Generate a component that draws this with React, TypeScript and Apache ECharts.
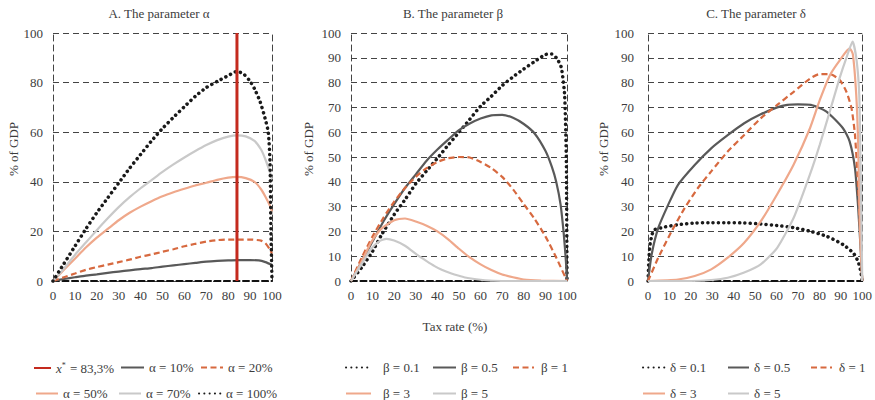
import React, { useEffect, useRef } from "react";
import * as echarts from "echarts";

// ---------- Data ----------
const xTickStep = 10;

// Panel A: the parameter alpha
const xStar = [[84, 0], [84, 100]];
const alpha10 = [[0,0],[5,0.8],[10,1.5],[15,2.2],[20,2.7],[25,3.3],[30,3.8],[35,4.3],[40,4.8],[45,5.2],[50,5.8],[55,6.3],[60,6.8],[65,7.3],[70,7.8],[75,8.1],[80,8.3],[85,8.4],[90,8.4],[94,8.3],[97,7.6],[100,6.5]];
const alpha20 = [[0,0],[5,1.5],[10,3],[15,4.5],[20,5.6],[25,6.6],[30,7.6],[35,8.6],[40,9.8],[45,10.7],[50,11.8],[55,12.8],[60,14],[65,15],[70,15.9],[75,16.5],[80,16.7],[85,16.7],[90,16.7],[95,16.3],[97,15.2],[99,12.8],[100,11]];
const alpha50 = [[0,0],[5,4.5],[10,9],[15,13.5],[20,17.5],[25,21],[30,24.5],[35,27.5],[40,30],[45,32.2],[50,34.2],[55,35.8],[60,37.2],[65,38.5],[70,39.6],[75,40.8],[80,41.7],[84,42],[88,41.5],[92,40],[95,37],[97,34],[99,30.5],[100,28]];
const alpha70 = [[0,0],[5,5],[10,10.5],[15,15.5],[20,20.5],[25,25.3],[30,29.8],[35,33.8],[40,37.4],[45,40.7],[50,44],[55,47],[60,49.8],[65,52.4],[70,54.8],[75,56.8],[80,58.2],[84,58.7],[88,58.3],[92,56.5],[95,53],[97,49],[99,44],[100,41]];
const alpha100 = [[0,0],[5,7],[10,14],[15,21],[20,27.5],[25,33.5],[30,39.5],[35,45.5],[40,51],[45,56.5],[50,61.5],[55,66],[60,70.3],[65,74.5],[70,78],[75,80.5],[80,82.8],[84,84.5],[87,83.5],[90,80.5],[92,77.5],[94.5,72.5],[96.8,65.7],[98.3,60],[99.1,48],[99.5,21],[100,0]];

// Panel B: the parameter beta
const beta01 = [[0,0],[5,5.5],[10,12],[14,18.4],[20,26.8],[25,32.8],[30,39.2],[35,44.4],[40,49.5],[45,54.8],[50,60],[55,65.2],[60,70.5],[65,74.5],[70,78.8],[75,82.3],[80,85.5],[85,88.5],[90,91.3],[93,91.5],[95.5,89.5],[97.4,86],[98.9,75],[99.7,48],[100,0]];
const beta05 = [[0,0],[5,8],[10,16],[15,24],[20,31],[25,37.5],[30,43],[35,48.5],[40,53],[45,57],[50,60.8],[55,63.5],[60,65.5],[65,66.8],[70,67],[75,65.8],[80,63.3],[85,59.5],[90,52.5],[93,46],[95,40],[97,31],[98.5,19],[99.5,8],[100,0]];
const beta1 = [[0,0],[5,9.5],[10,18],[15,25.5],[20,32],[25,37.5],[30,42],[35,45.5],[40,48],[45,49.5],[50,50],[55,49.8],[60,48],[65,45.5],[70,42],[75,37],[80,31],[85,25],[90,18],[95,9.5],[100,0]];
const beta3 = [[0,0],[5,8],[9.4,15.7],[14,21],[20,24.5],[25,25.2],[30,24],[35,22.3],[40,20],[45,16.8],[50,13],[55,9.5],[60,6.7],[65,4.4],[70,2.6],[75,1.5],[80,0.6],[88,0.2],[100,0]];
const beta5 = [[0,0],[5,7],[9.4,13],[13,16],[16.4,17],[20,16.3],[25,14.2],[31,10.3],[35,8],[38.7,6],[42,4.5],[46.5,3],[50,2.1],[54,1.2],[62,0.3],[70,0],[100,0]];

// Panel C: the parameter delta
const delta01 = [[0,0],[0.5,10],[1,15],[2,19],[3.2,20.7],[8,21.8],[14,22.7],[22,23.4],[30,23.5],[37,23.5],[45,23.4],[52.6,23],[60,22.4],[68,21.5],[76,20],[83.5,18],[91,14.7],[95.8,11.3],[98,8],[99.3,4],[100,0]];
const delta05 = [[0,0],[1.7,10.7],[4.8,21.4],[9.4,30.7],[14,38.8],[21.8,46.8],[29.5,53.5],[37.2,58.8],[44.9,63.6],[52.6,67.2],[60.3,70],[65,71],[70,71.2],[76,71],[83.3,68.3],[91,61.6],[94.1,56.3],[96.6,45.5],[98.1,29.5],[99.3,12],[100,0]];
const delta1 = [[0,0],[4.8,9.4],[11,20],[17.1,29.4],[23.3,37.5],[29.5,44.2],[37.2,52.2],[44.9,58.9],[52.6,65.6],[60.3,71],[68,76.3],[75.6,81.6],[80,83.4],[85,83.4],[89.5,81],[92.6,76.3],[95,69.6],[96.6,59],[98.1,37.5],[99.3,15],[100,0]];
const delta3 = [[0,0],[14,0.6],[21.8,2],[29.5,4.7],[37.2,9.4],[44.9,15.4],[52.6,24],[60.3,35],[68,47],[75.6,61.6],[80.2,73],[84.9,83],[89.5,89],[94.1,93.8],[95.6,91.5],[97.2,75],[98.1,55],[98.9,21.5],[100,0]];
const delta5 = [[0,0],[20,0],[29.5,0.4],[37.2,1.3],[44.9,3.4],[52.6,6.7],[60.3,13.4],[68,25.5],[75.6,43],[80.2,55],[84.9,68.5],[89.5,82],[92.6,90],[95.5,96.5],[97.4,88.7],[98.6,75],[99.2,48],[100,0]];

const panelTitles = ["A. The parameter α", "B. The parameter β", "C. The parameter δ"];
const yIntervals = [20, 10, 10];
const yAxisName = "% of GDP";
const xAxisTitle = "Tax rate (%)";

// ---------- Styles ----------
const FONT = "Liberation Serif";
const TXT = "#3c3c3c";
const RED = "#C42A1E";
const DARK = "#595959";
const ORANGE = "#D7693F";
const SALMON = "#EFA88B";
const LGRAY = "#C9C9C9";
const BLACK = "#1a1a1a";

const grids = [
  { left: 53, top: 33, width: 219, height: 248 },
  { left: 351, top: 33, width: 216, height: 248 },
  { left: 648, top: 33, width: 216, height: 248 },
];
const labelMargins = [10, 10, 14];
const nameGaps = [33, 36, 38];
const titleCenters = [159, 453, 756];

type Sty = "solid" | "dashed" | "dotted";

function lineSeries(name: string, data: number[][], g: number, color: string, sty: Sty, width = 2.2, smooth: any = 0.2) {
  let type: any = "solid";
  let cap: any = "butt";
  let w = width;
  if (sty === "dashed") type = [6, 3.5];
  if (sty === "dotted") {
    type = [0.1, 5.2];
    cap = "round";
    w = 3.5;
  }
  return {
    name,
    type: "line",
    xAxisIndex: g,
    yAxisIndex: g * 2,
    data,
    symbol: "none",
    showSymbol: false,
    smooth,
    clip: false,
    lineStyle: { color, width: w, type, cap },
    itemStyle: { color },
    emphasis: { disabled: true },
  };
}

function leg(name: string, left: number, top: number, w: number, padLeft = 0, extra: any = {}) {
  return {
    data: [name],
    left,
    top,
    padding: 0,
    itemWidth: w,
    itemHeight: 12,
    selectedMode: false,
    itemStyle: { color: "rgba(0,0,0,0)", borderColor: "rgba(0,0,0,0)", borderWidth: 0, opacity: 0 },
    textStyle: {
      fontFamily: FONT,
      fontSize: 13,
      color: TXT,
      padding: [0, 0, 0, padLeft],
      ...(extra.rich ? { rich: extra.rich } : {}),
    },
    ...(extra.formatter ? { formatter: extra.formatter } : {}),
  };
}

export default function App() {
  const ref = useRef<HTMLDivElement>(null);
  useEffect(() => {
    if (!ref.current) return;
    const chart = echarts.init(ref.current, null, { renderer: "svg" });

    const xAxes = grids.map((_, i) => ({
      type: "value",
      gridIndex: i,
      min: 0,
      max: 100,
      interval: xTickStep,
      axisTick: { show: false },
      splitLine: { show: false },
      axisLine: { show: true, onZero: false, lineStyle: { color: "#111", width: 2, type: [6, 3.5] } },
      axisLabel: { fontFamily: FONT, fontSize: 13, color: TXT, margin: 8 },
    }));

    const yAxes: any[] = [];
    grids.forEach((_, i) => {
      yAxes.push({
        type: "value",
        gridIndex: i,
        min: 0,
        max: 100,
        interval: yIntervals[i],
        position: "left",
        name: yAxisName,
        nameLocation: "middle",
        nameGap: nameGaps[i],
        nameRotate: 90,
        nameTextStyle: { fontFamily: FONT, fontSize: 13, color: TXT, padding: [0, 0, 0, 16] },
        axisTick: { show: false },
        axisLine: { show: true, lineStyle: { color: "#444", width: 1, type: [6, 4] } },
        splitLine: { show: true, lineStyle: { color: "#444", width: 1, type: [6, 4] } },
        axisLabel: { fontFamily: FONT, fontSize: 13, color: TXT, margin: labelMargins[i] },
      });
      yAxes.push({
        type: "value",
        gridIndex: i,
        min: 0,
        max: 100,
        position: "right",
        axisTick: { show: false },
        axisLabel: { show: false },
        splitLine: { show: false },
        axisLine: { show: true, lineStyle: { color: "#444", width: 1, type: [6, 4] } },
      });
    });

    const series = [
      lineSeries("xstar", xStar, 0, RED, "solid", 3, false),
      lineSeries("α = 10%", alpha10, 0, DARK, "solid"),
      lineSeries("α = 20%", alpha20, 0, ORANGE, "dashed"),
      lineSeries("α = 50%", alpha50, 0, SALMON, "solid"),
      lineSeries("α = 70%", alpha70, 0, LGRAY, "solid"),
      lineSeries("α = 100%", alpha100, 0, BLACK, "dotted"),
      lineSeries("β = 0.1", beta01, 1, BLACK, "dotted"),
      lineSeries("β = 0.5", beta05, 1, DARK, "solid"),
      lineSeries("β = 1", beta1, 1, ORANGE, "dashed"),
      lineSeries("β = 3", beta3, 1, SALMON, "solid"),
      lineSeries("β = 5", beta5, 1, LGRAY, "solid"),
      lineSeries("δ = 0.1", delta01, 2, BLACK, "dotted"),
      lineSeries("δ = 0.5", delta05, 2, DARK, "solid"),
      lineSeries("δ = 1", delta1, 2, ORANGE, "dashed"),
      lineSeries("δ = 3", delta3, 2, SALMON, "solid"),
      lineSeries("δ = 5", delta5, 2, LGRAY, "solid"),
    ];
    (series[0] as any).z = 5;

    const r1 = 361;
    const r2 = 387;
    const legends = [
      leg("xstar", 33, r1, 17, 0, {
        formatter: () => "{i|x}{s|*} = 83,3%",
        rich: {
          i: { fontFamily: FONT, fontSize: 13, fontStyle: "italic", color: TXT },
          s: { fontFamily: FONT, fontSize: 8, color: TXT, verticalAlign: "top", padding: [0, 1, 6, 0] },
        },
      }),
      leg("α = 10%", 120, r1, 23),
      leg("α = 20%", 200, r1, 22),
      leg("α = 50%", 35, r2, 22),
      leg("α = 70%", 118, r2, 22),
      leg("α = 100%", 198, r2, 22),
      leg("β = 0.1", 345, r1, 25, 7),
      leg("β = 0.5", 432, r1, 23),
      leg("β = 1", 512, r1, 21, 2),
      leg("β = 3", 345, r2, 25, 7),
      leg("β = 5", 432, r2, 23),
      leg("δ = 0.1", 642, r1, 22),
      leg("δ = 0.5", 727, r1, 21),
      leg("δ = 1", 810, r1, 21, 2),
      leg("δ = 3", 642, r2, 22),
      leg("δ = 5", 727, r2, 21),
    ];

    const titles: any[] = panelTitles.map((t, i) => ({
      text: t,
      left: titleCenters[i],
      top: 7,
      textAlign: "center",
      padding: 0,
      textStyle: { fontFamily: FONT, fontSize: 13, fontWeight: "normal", color: TXT },
    }));
    titles.push({
      text: xAxisTitle,
      left: 455,
      top: 320,
      textAlign: "center",
      padding: 0,
      textStyle: { fontFamily: FONT, fontSize: 13, fontWeight: "normal", color: TXT },
    });

    chart.setOption({
      animation: false,
      backgroundColor: "#ffffff",
      textStyle: { fontFamily: FONT },
      title: titles,
      grid: grids,
      xAxis: xAxes,
      yAxis: yAxes,
      legend: legends,
      series,
    });
    return () => chart.dispose();
  }, []);
  return (
    <div
      ref={ref}
      style={{ position: "fixed", left: 0, top: 0, width: 875, height: 400, background: "#fff" }}
    />
  );
}
